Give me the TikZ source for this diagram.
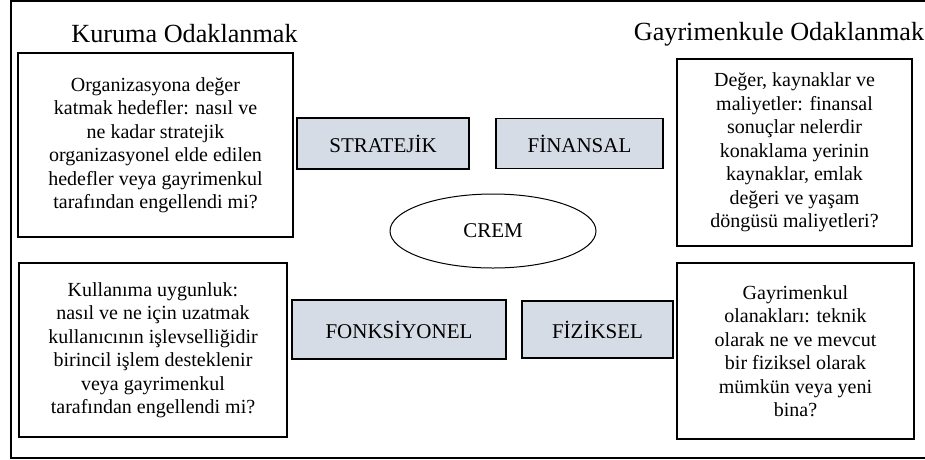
\documentclass[tikz,border=0pt]{standalone}
\usepackage{fontspec}
\setmainfont{Liberation Serif}
\usepackage{xcolor}
\usepackage{tikz}
\usetikzlibrary{shapes, positioning}
\tikzset{
    questionnode/.style = {draw, rectangle, line width=1.4pt, inner sep=0em, align=center,
      font=\fontsize{20}{23.5}\selectfont},
    aspectnode/.style = {draw, rectangle, line width=1.4pt, fill=aspectfill, inner sep=0em,
      font=\fontsize{21}{24}\selectfont},
    ellipsenode/.style = {draw, ellipse, line width=1pt, inner sep=0em,
      font=\fontsize{21}{24}\selectfont},
    titlenode/.style = {draw=none, fill=none, inner sep=0em, anchor=base,
      font=\fontsize{26.2}{30}\selectfont}
}
\definecolor{aspectfill}{RGB}{214, 220, 229}

\begin{document}
\begin{tikzpicture}[x=1pt, y=-1pt]
    \useasboundingbox (0,0) rectangle (925,459);
    \clip (0,0) rectangle (925,459);
    \draw [line width=2pt] (11,1) rectangle (935,458);

    \node [name=orgtitle, titlenode] at (184.5,42) {Kuruma Odaklanmak};
    \node [name=retitle, titlenode] at (779,40) {Gayrimenkule Odaklanmak};

    % four question boxes
    \node [name=strategicq, questionnode, minimum width=275, minimum height=184] at (155.5,145)
        {Organizasyona değer\\ katmak hedefler: nasıl ve\\ ne kadar stratejik\\
         organizasyonel elde edilen\\ hedefler veya gayrimenkul\\ tarafından engellendi mi?};
    \node [name=financialq, questionnode, minimum width=235, minimum height=187] at (794.5,152.5)
        {Değer, kaynaklar ve\\ maliyetler: finansal\\ sonuçlar nelerdir\\ konaklama yerinin\\
         kaynaklar, emlak\\ değeri ve yaşam\\ döngüsü maliyetleri?};
    \node [name=functionalq, questionnode, minimum width=268, minimum height=174] at (153,350)
        {Kullanıma uygunluk:\\ nasıl ve ne için uzatmak\\ kullanıcının işlevselliğidir\\
         birincil işlem desteklenir\\ veya gayrimenkul\\ tarafından engellendi mi?};
    \node [name=physicalq, questionnode, minimum width=237, minimum height=176] at (795.5,351)
        {Gayrimenkul\\ olanakları: teknik\\ olarak ne ve mevcut\\ bir fiziksel olarak\\
         mümkün veya yeni\\ bina?};

    % aspects round CREM
    \node [name=crem, ellipsenode, minimum width=206, minimum height=74] at (493,231) {CREM};
    \node [name=strategic, aspectnode, minimum width=172, minimum height=51] at (383,143.5) {STRATEJİK};
    \node [name=financial, aspectnode, minimum width=167, minimum height=50] at (579.5,143.5) {FİNANSAL};
    \node [name=functional, aspectnode, minimum width=214, minimum height=59] at (399,329.5) {FONKSİYONEL};
    \node [name=physical, aspectnode, minimum width=151, minimum height=57] at (597.5,329.5) {FİZİKSEL};
\end{tikzpicture}
\end{document}
